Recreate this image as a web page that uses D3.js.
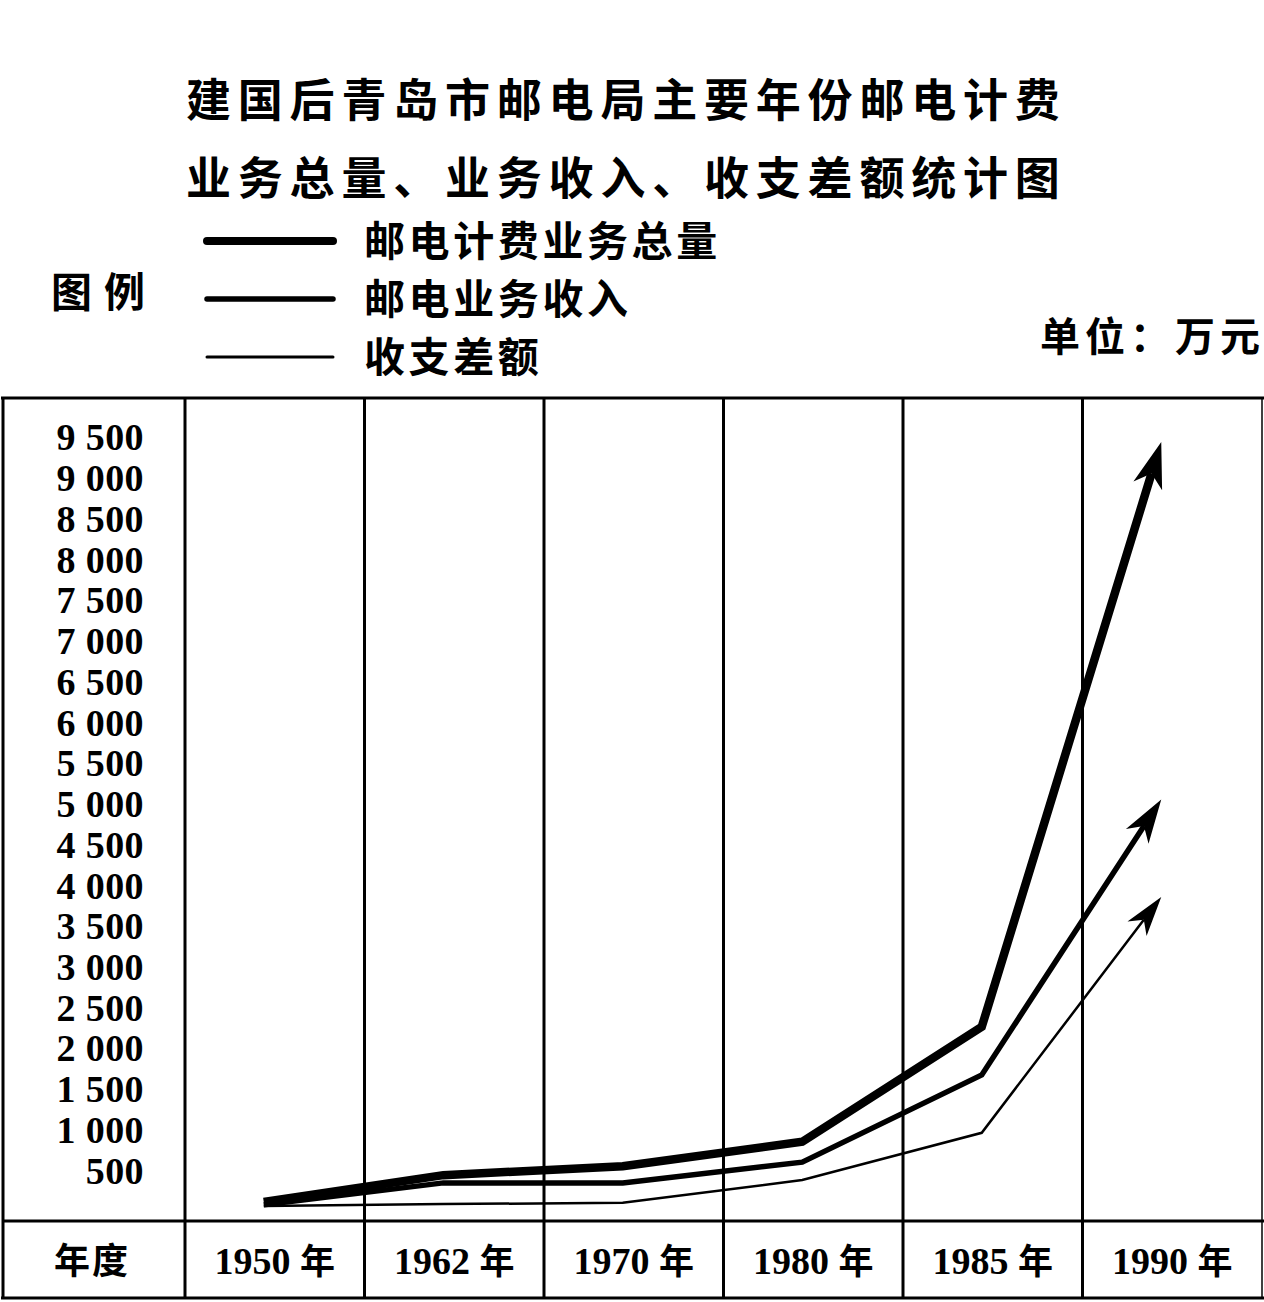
<!DOCTYPE html>
<html>
<head>
<meta charset="utf-8">
<script src="https://cdn.jsdelivr.net/npm/d3@7"></script>
<style>
  html, body { margin: 0; padding: 0; background: #fff; }
  svg { display: block; }
</style>
</head>
<body>
<svg id="chart" width="1264" height="1302"></svg>
<script>
// ---- data (unit: 万元) ----
const years = ["1950", "1962", "1970", "1980", "1985", "1990"];
const totalVolume = [110, 440, 550, 850, 2260, 9440];   // 邮电计费业务总量
const revenue     = [75, 345, 345, 600, 1670, 5050];    // 邮电业务收入
const balance     = [60, 85, 100, 380, 960, 3855];      // 收支差额
const yTicks = [500, 1000, 1500, 2000, 2500, 3000, 3500, 4000, 4500,
                5000, 5500, 6000, 6500, 7000, 7500, 8000, 8500, 9000, 9500];
const seriesNames = ["邮电计费业务总量", "邮电业务收入", "收支差额"];
const titleLines = ["建国后青岛市邮电局主要年份邮电计费", "业务总量、业务收入、收支差额统计图"];

const svg = d3.select("#chart");
const W = 1264, H = 1302;
svg.append("rect").attr("width", W).attr("height", H).attr("fill", "#fff");

const CJK = "'Noto Sans CJK SC', 'Noto Sans', sans-serif";
const SERIF = "'Liberation Serif', 'DejaVu Serif', serif";

// layout
const tableLeft = 3, tableRight = 1262, tableTop = 398, tableBottom = 1298;
const rowLine = 1221, labelColRight = 185;

const x = d3.scaleBand().domain(years).range([labelColRight, tableRight]).padding(0);
const y = d3.scaleLinear().domain([0, 9500]).range([1211, 437]);
const px = d => x(d) + x.bandwidth() / 2 - 11;

// ---- title ----
titleLines.forEach((t, i) => {
  svg.append("text")
    .attr("x", 186).attr("y", 117 + i * 78)
    .attr("font-family", CJK).attr("font-weight", 700)
    .attr("font-size", 45).attr("letter-spacing", 6.8)
    .attr("fill", "#000").text(t);
});

// ---- legend ----
svg.append("text").attr("x", 51).attr("y", 307)
  .attr("font-family", CJK).attr("font-weight", 700).attr("font-size", 41)
  .attr("letter-spacing", 12).text("图例");
const legendWidths = [8, 5.5, 3];
const legendY = [241, 299, 357];
seriesNames.forEach((n, i) => {
  svg.append("line").attr("x1", 207).attr("x2", 333)
    .attr("y1", legendY[i]).attr("y2", legendY[i])
    .attr("stroke", "#000").attr("stroke-width", legendWidths[i])
    .attr("stroke-linecap", "round");
  svg.append("text").attr("x", 364).attr("y", legendY[i] + 15)
    .attr("font-family", CJK).attr("font-weight", 700).attr("font-size", 41)
    .attr("letter-spacing", 3.6).text(n);
});
svg.append("text").attr("x", 1040).attr("y", 351)
  .attr("font-family", CJK).attr("font-weight", 700).attr("font-size", 40)
  .attr("letter-spacing", 5).text("单位：万元");

// ---- table frame ----
const frame = svg.append("g").attr("stroke", "#000").attr("stroke-width", 3);
frame.append("line").attr("x1", tableLeft - 2).attr("x2", W).attr("y1", tableTop).attr("y2", tableTop);
frame.append("line").attr("x1", tableLeft - 2).attr("x2", W).attr("y1", tableBottom).attr("y2", tableBottom);
frame.append("line").attr("x1", tableLeft).attr("x2", tableLeft).attr("y1", tableTop).attr("y2", tableBottom);
frame.append("line").attr("x1", tableRight).attr("x2", tableRight).attr("y1", tableTop).attr("y2", tableBottom).attr("stroke-width", 1.5);
frame.append("line").attr("x1", tableLeft).attr("x2", W).attr("y1", rowLine).attr("y2", rowLine);
years.forEach(yr => {
  frame.append("line").attr("x1", x(yr)).attr("x2", x(yr))
    .attr("y1", tableTop).attr("y2", tableBottom);
});

// ---- y axis labels ----
const fmt = d => d3.format(",")(d).replace(",", " ");
const yAxis = svg.append("g").attr("transform", "translate(144,0)")
  .call(d3.axisLeft(y).tickValues(yTicks).tickFormat(fmt).tickSize(0).tickPadding(0));
yAxis.select(".domain").remove();
yAxis.selectAll("text").attr("font-family", SERIF).attr("font-weight", 700)
  .attr("font-size", 38).attr("fill", "#000").attr("dy", "0.34em")
  .attr("letter-spacing", 0.4);

// ---- year row ----
svg.append("text").attr("x", 54).attr("y", 1274)
  .attr("font-family", CJK).attr("font-weight", 700).attr("font-size", 36)
  .attr("letter-spacing", 2).text("年度");
years.forEach(yr => {
  const t = svg.append("text").attr("x", x(yr) + x.bandwidth() / 2).attr("y", 1274)
    .attr("text-anchor", "middle").attr("font-family", SERIF).attr("font-weight", 700)
    .attr("font-size", 38).attr("fill", "#000");
  t.append("tspan").text(yr + " ");
  t.append("tspan").attr("font-family", CJK).attr("font-size", 35).text("年");
});

// ---- lines with arrows ----
const series = [
  { values: totalVolume, width: 8.5, headL: 46, headW: 30 },
  { values: revenue, width: 5.5, headL: 44, headW: 27 },
  { values: balance, width: 2.5, headL: 40, headW: 24 }
];
const lineGen = d3.line().x(d => d[0]).y(d => d[1]);
series.slice().reverse().forEach(s => {
  const pts = years.map((yr, i) => [px(yr), y(s.values[i])]);
  const P = pts[pts.length - 1], Q = pts[pts.length - 2];
  const dx = P[0] - Q[0], dy = P[1] - Q[1];
  const len = Math.hypot(dx, dy);
  const ux = dx / len, uy = dy / len, nx = -uy, ny = ux;
  const notch = [P[0] - ux * s.headL * 0.72, P[1] - uy * s.headL * 0.72];
  const linePts = pts.slice(0, -1).concat([notch]);
  svg.append("path").attr("d", lineGen(linePts))
    .attr("fill", "none").attr("stroke", "#000").attr("stroke-width", s.width)
    .attr("stroke-linejoin", "miter").attr("stroke-miterlimit", 4);
  const back = [P[0] - ux * s.headL, P[1] - uy * s.headL];
  const head = [
    P,
    [back[0] + nx * s.headW / 2, back[1] + ny * s.headW / 2],
    notch,
    [back[0] - nx * s.headW / 2, back[1] - ny * s.headW / 2]
  ];
  svg.append("path").attr("d", "M" + head.map(p => p.join(",")).join("L") + "Z")
    .attr("fill", "#000");
});
</script>
</body>
</html>
